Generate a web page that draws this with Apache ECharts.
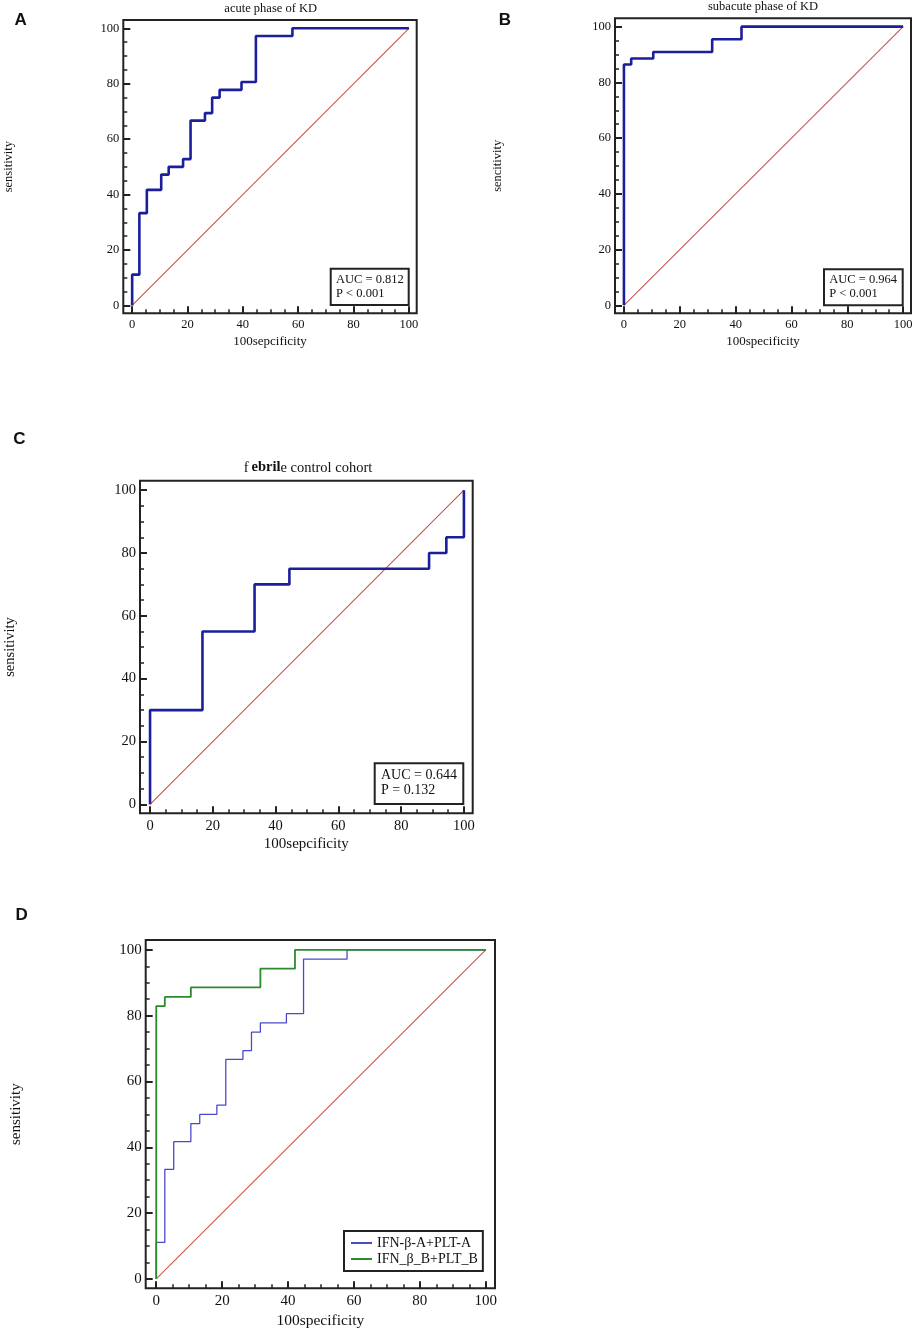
<!DOCTYPE html>
<html lang="en">
<head>
    <meta charset="UTF-8">
    <title>ROC curves</title>
    <script src="https://cdn.jsdelivr.net/npm/echarts@6/dist/echarts.min.js"></script>
    <style>
        html, body { margin: 0; padding: 0; background: #fff; }
        #chart { width: 922px; height: 1330px; }
    </style>
</head>
<body>
<div id="chart"></div>
<script>
    // ROC step points (100-specificity, sensitivity)
    const fprA = [0, 0, 2.6, 5.3, 10.5, 13.2, 18.4, 21.1, 26.3, 28.9, 31.6, 39.5, 44.7, 57.9, 100];
    const tprA = [0, 11.1, 33.3, 41.7, 47.2, 50, 52.8, 66.7, 69.4, 75, 77.8, 80.6, 97.2, 100, 100];
    const fprB = [0, 0, 2.6, 10.5, 31.6, 42.1, 100];
    const tprB = [0, 86.4, 88.6, 90.9, 95.5, 100, 100];
    const fprC = [0, 0, 16.7, 33.3, 44.4, 88.9, 94.4, 100];
    const tprC = [0, 30, 55, 70, 75, 80, 85, 100];
    const fprD = [0, 0, 2.6, 10.5, 31.6, 42.1, 100];
    const tprD = [0, 82.9, 85.7, 88.6, 94.3, 100, 100];
    const diagX = [0, 100];
    const diagY = [0, 100];

    const majorTicks = [0, 20, 40, 60, 80, 100];
    const minorTicks = [0, 5, 10, 15, 20, 25, 30, 35, 40, 45, 50, 55, 60, 65, 70, 75, 80, 85, 90, 95, 100];

    const panelLetters = ['A', 'B', 'C', 'D'];
    const titles = ['acute phase of KD', 'subacute phase of KD', 'febrile control cohort', ''];
    const xNames = ['100sepcificity', '100specificity', '100sepcificity', '100specificity'];
    const yNames = ['sensitivity', 'sencitivity', 'sensitivity', 'sensitivity'];
    const aucLines = [['AUC = 0.812', 'P < 0.001'], ['AUC = 0.964', 'P < 0.001'], ['AUC = 0.644', 'P = 0.132']];
    const legendNames = ['IFN-β-A+PLT-A', 'IFN_β_B+PLT_B'];

    const serif = '"Liberation Serif", "DejaVu Serif", serif';
    const dark = '#222';

    // layout of each panel (frame box, fonts, text positions)
    const panels = [
        { box: [123.3, 20, 293.4, 293.3], fs: 12.5, letter: [20.7, 20], title: [270.7, 8.3], yCx: 9, xCy: 341.7 },
        { box: [615, 18.3, 296, 295], fs: 12.5, letter: [505, 20], title: [763, 7], yCx: 498.3, xCy: 342 },
        { box: [140, 480.7, 332.7, 332.6], fs: 14.5, letter: [19.3, 439], title: [308, 467.7], yCx: 10, xCy: 845 },
        { box: [145.7, 940, 349.3, 348.3], fs: 15, letter: [21.7, 915.7], title: null, yCx: 16, xCy: 1320.7 }
    ];
    const xMin = -3.2, xMax = 102.8, yMin = -2.85, yMax = 103;

    const grids = [], xAxes = [], yAxes = [], series = [], graphics = [];

    panels.forEach((p, i) => {
        const [gl, gt, gw, gh] = p.box;
        grids.push({ left: gl, top: gt, width: gw, height: gh, show: true,
            borderColor: dark, borderWidth: 2, backgroundColor: 'transparent' });

        const labelStyle = { color: '#111', fontFamily: serif, fontSize: p.fs };
        const noLine = { show: false, onZero: false };
        // major axes with labels
        xAxes.push({
            type: 'value', gridIndex: i, min: xMin, max: xMax, position: 'bottom',
            axisLine: noLine, splitLine: { show: false },
            axisTick: { show: true, inside: true, length: 7, customValues: majorTicks, lineStyle: { color: dark, width: 2 } },
            axisLabel: Object.assign({ margin: 5, customValues: majorTicks }, labelStyle),
            name: xNames[i], nameLocation: 'middle', nameGap: p.xCy - (gt + gh) - p.fs * 0.55,
            nameTextStyle: { color: '#111', fontFamily: serif, fontSize: p.fs + 0.5 }
        });
        yAxes.push({
            type: 'value', gridIndex: i, min: yMin, max: yMax, position: 'left',
            axisLine: noLine, splitLine: { show: false },
            axisTick: { show: true, inside: true, length: 7, customValues: majorTicks, lineStyle: { color: dark, width: 2 } },
            axisLabel: Object.assign({ margin: 4, customValues: majorTicks }, labelStyle),
            name: yNames[i], nameLocation: 'middle', nameGap: gl - p.yCx - p.fs * 0.5,
            nameTextStyle: { color: '#111', fontFamily: serif, fontSize: p.fs }
        });
        // minor tick axes
        xAxes.push({
            type: 'value', gridIndex: i, min: xMin, max: xMax, position: 'bottom',
            axisLine: noLine, splitLine: { show: false }, axisLabel: { show: false },
            axisTick: { show: true, inside: true, length: 4, customValues: minorTicks, lineStyle: { color: dark, width: 1.5 } }
        });
        yAxes.push({
            type: 'value', gridIndex: i, min: yMin, max: yMax, position: 'left',
            axisLine: noLine, splitLine: { show: false }, axisLabel: { show: false },
            axisTick: { show: true, inside: true, length: 4, customValues: minorTicks, lineStyle: { color: dark, width: 1.5 } }
        });

        // reference diagonal
        series.push({
            type: 'line', xAxisIndex: 2 * i, yAxisIndex: 2 * i, showSymbol: false, silent: true,
            data: diagX.map((x, k) => [x, diagY[k]]), color: '#c9554f',
            lineStyle: { color: '#c9554f', width: 1.1 }, z: 2
        });

        // panel letter
        graphics.push({ type: 'text', x: p.letter[0], y: p.letter[1],
            style: { text: panelLetters[i], fill: '#111', font: 'bold 17px "Liberation Sans", Arial, sans-serif',
                textAlign: 'center', textVerticalAlign: 'middle' } });
    });

    // titles
    graphics.push({ type: 'text', x: panels[0].title[0], y: panels[0].title[1],
        style: { text: titles[0], fill: '#111', font: '12.5px ' + serif, textAlign: 'center', textVerticalAlign: 'middle' } });
    graphics.push({ type: 'text', x: panels[1].title[0], y: panels[1].title[1],
        style: { text: titles[1], fill: '#111', font: '12.5px ' + serif, textAlign: 'center', textVerticalAlign: 'middle' } });
    // "febrile" drawn with the odd bold middle as in the figure
    const t3 = titles[2];
    graphics.push({ type: 'text', x: panels[2].title[0], y: panels[2].title[1],
        style: {
            text: '{n|' + t3.slice(0, 1) + '}{b|' + t3.slice(1, 6) + '}{n|' + t3.slice(6) + '}',
            rich: {
                n: { fontFamily: serif, fontSize: 14.5, fill: '#111' },
                b: { fontFamily: serif, fontSize: 14.5, fontWeight: 'bold', fill: '#111', padding: [0, 0, 0, 3] }
            },
            textAlign: 'center', textVerticalAlign: 'middle'
        } });

    // AUC boxes
    const aucBoxes = [
        { r: [330.7, 268.7, 78, 36.3], tx: 336, ty: [279.3, 293.7], fs: 12.5 },
        { r: [824, 269.3, 78.7, 36], tx: 829.3, ty: [280, 294], fs: 12.5 },
        { r: [374.7, 763.3, 88.6, 40.7], tx: 381, ty: [775, 790.7], fs: 14 }
    ];
    aucBoxes.forEach((b, i) => {
        graphics.push({ type: 'rect', shape: { x: b.r[0], y: b.r[1], width: b.r[2], height: b.r[3] },
            style: { fill: '#fff', stroke: dark, lineWidth: 2 }, z: 10 });
        aucLines[i].forEach((line, k) => {
            graphics.push({ type: 'text', x: b.tx, y: b.ty[k], z: 11,
                style: { text: line, fill: '#111', font: b.fs + 'px ' + serif, textVerticalAlign: 'middle' } });
        });
    });

    // curves
    const pts = (xs, ys) => xs.map((x, k) => [x, ys[k]]);
    const thick = 2.6;
    series.push({ type: 'line', xAxisIndex: 0, yAxisIndex: 0, step: 'end', showSymbol: false, data: pts(fprA, tprA),
        lineStyle: { color: '#1c1f9c', width: thick }, z: 3 });
    series.push({ type: 'line', xAxisIndex: 2, yAxisIndex: 2, step: 'end', showSymbol: false, data: pts(fprB, tprB),
        lineStyle: { color: '#1c1f9c', width: thick }, z: 3 });
    series.push({ type: 'line', xAxisIndex: 4, yAxisIndex: 4, step: 'end', showSymbol: false, data: pts(fprC, tprC),
        lineStyle: { color: '#1c1f9c', width: thick }, z: 3 });
    series.push({ name: legendNames[0], type: 'line', xAxisIndex: 6, yAxisIndex: 6, step: 'end', showSymbol: false,
        data: pts(fprA, tprA), color: '#4a4ac8', lineStyle: { color: '#4a4ac8', width: 1.3 }, z: 3 });
    series.push({ name: legendNames[1], type: 'line', xAxisIndex: 6, yAxisIndex: 6, step: 'end', showSymbol: false,
        data: pts(fprD, tprD), color: '#2b8a2b', lineStyle: { color: '#2b8a2b', width: 1.8 }, z: 4 });

    const chart = echarts.init(document.getElementById('chart'), null, { renderer: 'canvas' });
    chart.setOption({
        animation: false,
        backgroundColor: '#fff',
        grid: grids,
        xAxis: xAxes,
        yAxis: yAxes,
        legend: {
            data: legendNames, orient: 'vertical', left: 344, top: 1231,
            backgroundColor: '#fff', borderColor: dark, borderWidth: 2,
            padding: [4, 5, 4, 7], itemGap: 0, itemWidth: 21, itemHeight: 2, icon: 'rect',
            textStyle: { fontFamily: serif, fontSize: 14, color: '#111', lineHeight: 16 },
            z: 10
        },
        series: series,
        graphic: graphics
    });
</script>
</body>
</html>
